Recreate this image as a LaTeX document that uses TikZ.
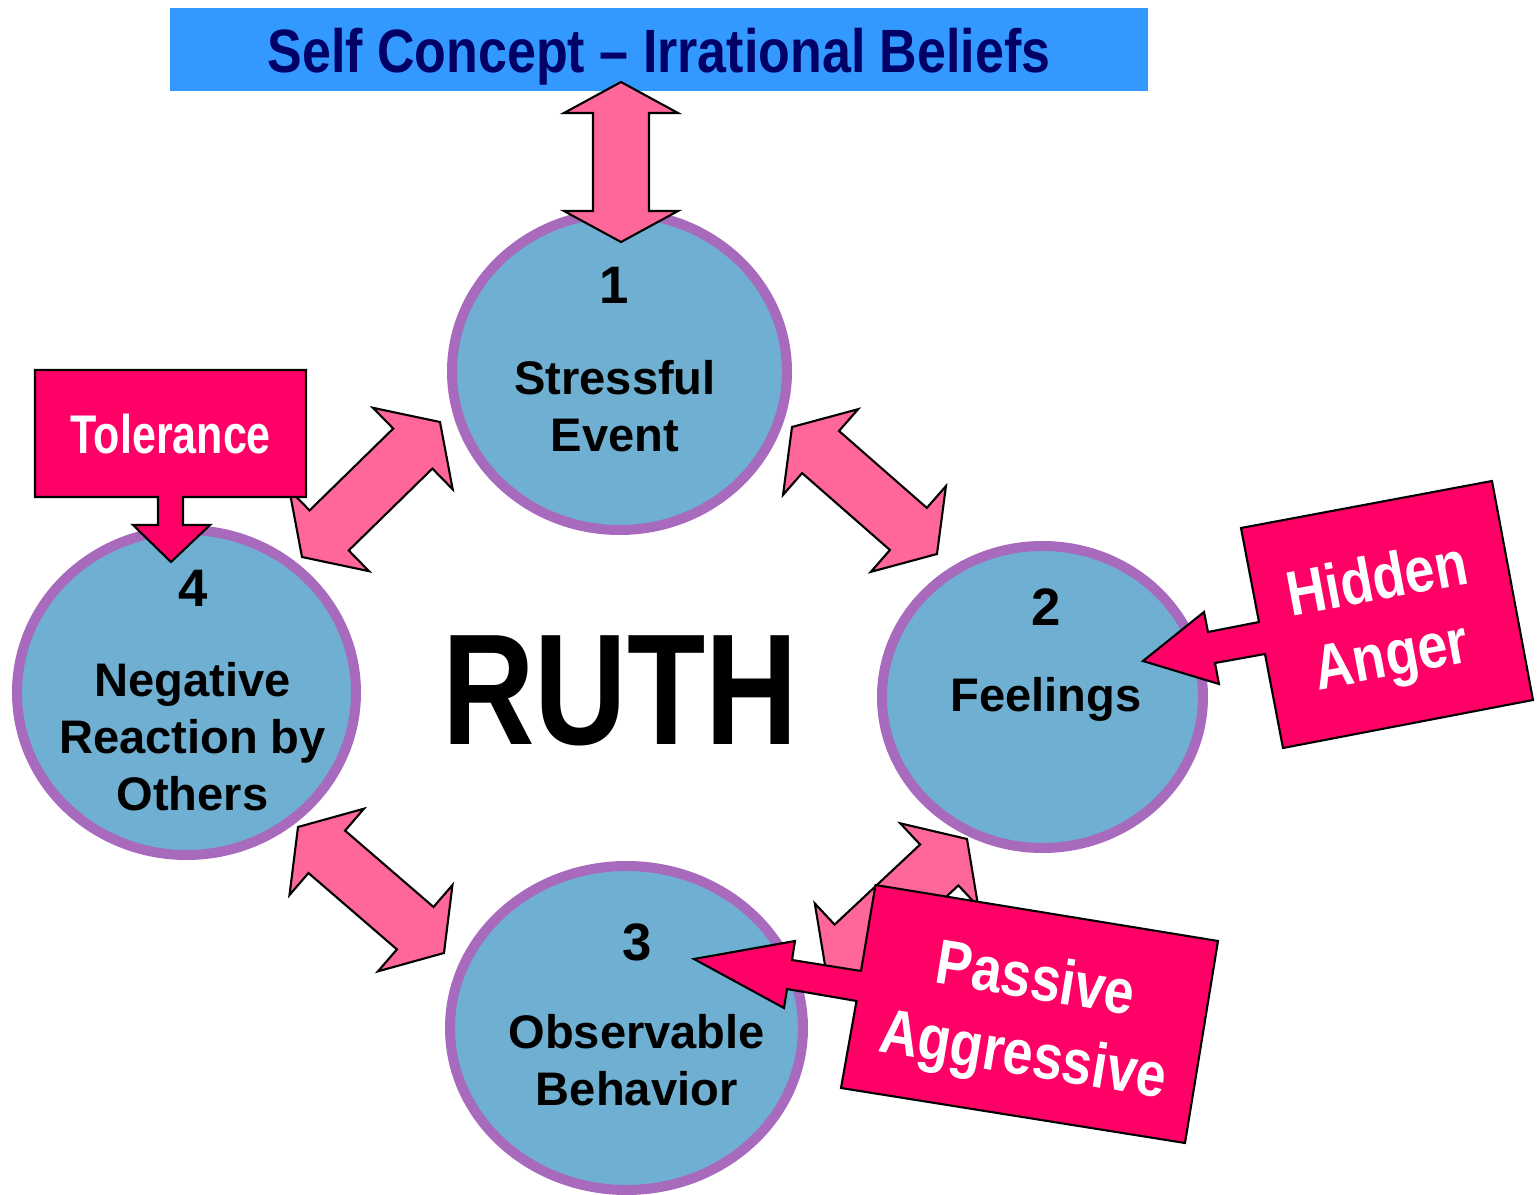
\documentclass[tikz,border=0pt]{standalone}
\usepackage{fontspec}
\setmainfont{Liberation Sans}
\newfontfamily\narrowfont{Liberation Sans}[FakeStretch=0.85]
\newfontfamily\tightfont{Liberation Sans}[FakeStretch=0.79]
\newfontfamily\bigfont{Liberation Sans}[FakeStretch=0.81]
\usetikzlibrary{calc,shapes.geometric}
\definecolor{titleblue}{HTML}{3399FF}
\definecolor{titlenavy}{HTML}{000066}
\definecolor{stageblue}{HTML}{6FAFD2}
\definecolor{ringpurple}{HTML}{A86ABD}
\definecolor{arrowpink}{HTML}{FF6699}
\definecolor{calloutred}{HTML}{FF0066}
\newcommand{\fatarrow}[3][0.38cm]{%
  \filldraw[pinkarrow] let \p1=($(#3)-(#2)$), \n1={atan2(\y1,\x1)} in
    (#2) -- ($(#2)+(\n1:#1)+(\n1+90:0.57cm)$) -- ($(#2)+(\n1:#1)+(\n1+90:0.28cm)$)
    -- ($(#3)-(\n1:#1)+(\n1+90:0.28cm)$) -- ($(#3)-(\n1:#1)+(\n1+90:0.57cm)$)
    -- (#3) -- ($(#3)-(\n1:#1)+(\n1-90:0.57cm)$) -- ($(#3)-(\n1:#1)+(\n1-90:0.28cm)$)
    -- ($(#2)+(\n1:#1)+(\n1-90:0.28cm)$) -- ($(#2)+(\n1:#1)+(\n1-90:0.57cm)$) -- cycle;}
\begin{document}
\begin{tikzpicture}[
    stage/.style={ellipse,draw=ringpurple,line width=0.1cm,fill=stageblue,inner sep=0pt},
    stagenum/.style={anchor=north,inner sep=0pt,font=\bfseries\fontsize{15}{18}\selectfont},
    stagetext/.style={anchor=north,inner sep=0pt,align=center,font=\bfseries\fontsize{13.4}{16.2}\selectfont},
    pinkarrow/.style={fill=arrowpink,draw=black,line width=0.6pt},
    callout/.style={fill=calloutred,draw=black,line width=0.6pt},
    callouttext/.style={text=white,align=center,inner sep=0pt,font=\narrowfont\bfseries\fontsize{18}{21.9}\selectfont}]
        \useasboundingbox (0,0) rectangle (15.4,-11.95);
        \node[fill=titleblue,minimum width=9.78cm,minimum height=0.83cm,inner sep=0pt,text=titlenavy,
            text height=0.6cm,text depth=0.13cm,font=\narrowfont\bfseries\fontsize{17.4}{20}\selectfont]
            (title) at (6.59,-0.495) {Self Concept – Irrational Beliefs};
        \node[stage,minimum width=3.35cm,minimum height=3.17cm] (c1) at (6.195,-3.715) {};
        \node[stage,minimum width=3.21cm,minimum height=3.02cm] (c2) at (10.425,-6.97) {};
        \node[stage,minimum width=3.53cm,minimum height=3.24cm] (c3) at (6.265,-10.28) {};
        \node[stage,minimum width=3.39cm,minimum height=3.25cm] (c4) at (1.865,-6.925) {};
        \node[stagenum] (n1) at (6.14,-2.67) {1};
        \node[stagetext] (l1) at (6.15,-3.60) {Stressful\\Event};
        \node[stagenum] (n2) at (10.46,-5.88) {2};
        \node[stagetext] (l2) at (10.46,-6.77) {Feelings};
        \node[stagenum] (n3) at (6.367,-9.23) {3};
        \node[stagetext] (l3) at (6.367,-10.14) {Observable\\Behavior};
        \node[stagenum] (n4) at (1.93,-5.70) {4};
        \node[stagetext] (l4) at (1.925,-6.62) {Negative\\Reaction by\\Others};
        \node[anchor=base,inner sep=0pt,font=\bigfont\bfseries\fontsize{45}{50}\selectfont] (ruth) at (6.20,-7.44) {RUTH};
        \coordinate (up1) at (6.21,-0.82);
        \coordinate (up2) at (6.21,-2.42);
        \coordinate (nw1) at (3.02,-5.57);
        \coordinate (nw2) at (4.40,-4.22);
        \coordinate (ne1) at (7.92,-4.27);
        \coordinate (ne2) at (9.37,-5.54);
        \coordinate (sw1) at (2.98,-8.27);
        \coordinate (sw2) at (4.44,-9.53);
        \coordinate (se1) at (8.26,-9.71);
        \coordinate (se2) at (9.67,-8.39);
        \fatarrow[0.31cm]{up1}{up2}
        \fatarrow{nw1}{nw2}
        \fatarrow{ne1}{ne2}
        \fatarrow{sw1}{sw2}
        \fatarrow{se1}{se2}
        \filldraw[callout] (0.35,-3.70) -- (3.06,-3.70) -- (3.06,-4.97) -- (1.83,-4.97) -- (1.83,-5.25) -- (2.10,-5.25)
            -- (1.71,-5.62) -- (1.33,-5.25) -- (1.58,-5.25) -- (1.58,-4.97) -- (0.35,-4.97) -- cycle;
        \node[anchor=base,inner sep=0pt,text=white,font=\tightfont\bfseries\fontsize{15.5}{18}\selectfont] (tolerance) at (1.708,-4.54) {Tolerance};
        \filldraw[callout] (12.41,-5.28) -- (14.92,-4.81) -- (15.33,-7.00) -- (12.83,-7.48) -- (12.65,-6.54) -- (12.15,-6.63)
            -- (12.19,-6.84) -- (11.43,-6.61) -- (12.04,-6.12) -- (12.08,-6.32) -- (12.59,-6.22) -- cycle;
        \node[callouttext,rotate=10.6] (anger) at (13.85,-6.22) {Hidden\\Anger};
        \filldraw[callout] (8.755,-8.85) -- (12.18,-9.41) -- (11.85,-11.43) -- (8.41,-10.88) -- (8.565,-10.01) -- (7.87,-9.89)
            -- (7.84,-10.08) -- (6.94,-9.59) -- (7.95,-9.41) -- (7.92,-9.60) -- (8.61,-9.71) -- cycle;
        \node[callouttext,rotate=-9.3] (passive) at (10.29,-10.21) {Passive\\Aggressive};
    \end{tikzpicture}
\end{document}
